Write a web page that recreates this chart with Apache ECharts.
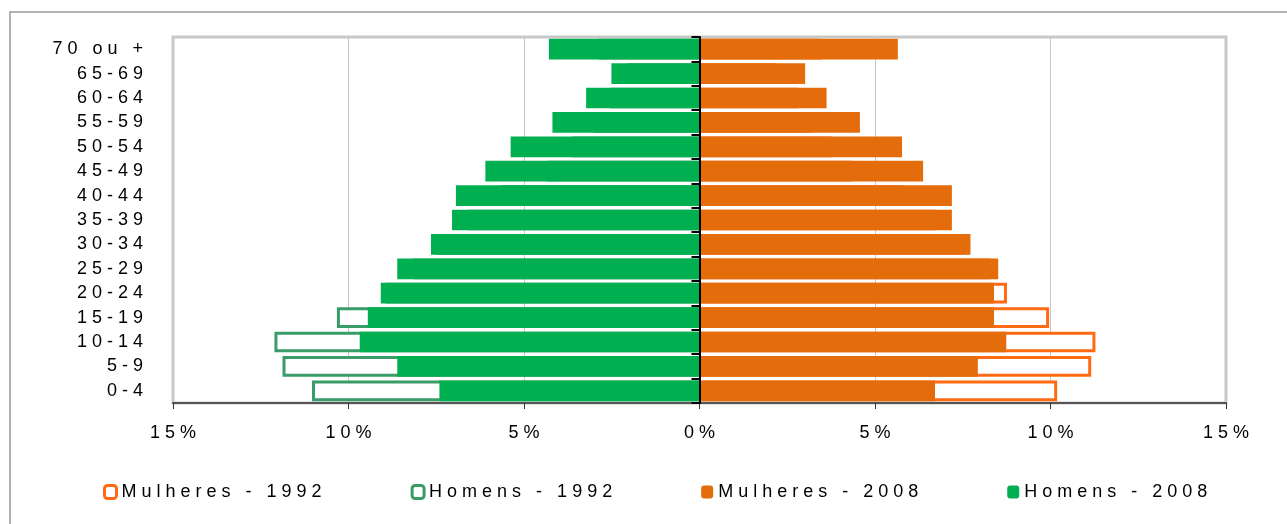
<!DOCTYPE html>
<html>
<head>
<meta charset="utf-8">
<script src="https://cdn.jsdelivr.net/npm/echarts@6/dist/echarts.min.js"></script>
<style>
  html, body { margin: 0; padding: 0; background: #fff; }
  #chart { width: 1287px; height: 524px; }
</style>
</head>
<body>
<div id="chart"></div>
<script>
// faixas etarias, de baixo para cima
const categories = ['0-4', '5-9', '10-14', '15-19', '20-24', '25-29', '30-34', '35-39',
  '40-44', '45-49', '50-54', '55-59', '60-64', '65-69', '70 ou +'];

// % da populacao
const homens1992   = [11.04, 11.88, 12.11, 10.33, 8.95, 8.16, 7.5, 6.62, 5.65, 4.34, 3.63, 3.03, 2.54, 2.06, 2.88];
const mulheres1992 = [10.19, 11.16, 11.28, 9.96, 8.76, 8.3, 7.6, 6.74, 5.8, 4.34, 3.77, 3.17, 2.8, 2.2, 3.48];
const homens2008   = [7.41, 8.61, 9.68, 9.45, 9.08, 8.61, 7.65, 7.05, 6.94, 6.1, 5.38, 4.19, 3.23, 2.51, 4.29];
const mulheres2008 = [6.71, 7.93, 8.74, 8.39, 8.39, 8.51, 7.72, 7.19, 7.19, 6.37, 5.77, 4.57, 3.62, 3.01, 5.65];

const xTicks = [-15, -10, -5, 0, 5, 10, 15];

const font = 'Liberation Sans, Arial, sans-serif';
const spaced = s => s.split('').join(' ');

const orange92 = '#ff6a13', green92 = '#3a9c68';
const orange08 = '#e46c0a', green08 = '#00af50';

const chart = echarts.init(document.getElementById('chart'));

const hollow = (name, data, color) => ({
  name: name,
  type: 'bar',
  barGap: '-100%',
  barCategoryGap: '15%',
  data: data,
  itemStyle: { color: '#fff', borderColor: color, borderWidth: 3 }
});
const filled = (name, data, color) => ({
  name: name,
  type: 'bar',
  barGap: '-100%',
  barCategoryGap: '15%',
  data: data,
  itemStyle: { color: color }
});

chart.setOption({
  animation: false,
  backgroundColor: '#fff',
  graphic: [{
    type: 'rect',
    shape: { x: 10, y: 12, width: 1300, height: 540 },
    style: { fill: null, stroke: '#9a9a9a', lineWidth: 1.5 },
    silent: true
  }],
  grid: {
    left: 173, right: 61, top: 37, bottom: 121,
    show: true, borderColor: '#c8c8c8', borderWidth: 3
  },
  legend: {
    bottom: 18,
    left: 98,
    itemWidth: 12,
    itemHeight: 13,
    itemGap: 89,
    textStyle: { fontFamily: font, fontSize: 18, color: '#000' },
    formatter: spaced,
    data: [
      { name: 'Mulheres - 1992', itemStyle: { borderWidth: 3, borderColor: orange92, color: '#fff' } },
      { name: 'Homens - 1992', itemStyle: { borderWidth: 3, borderColor: green92, color: '#fff' } },
      { name: 'Mulheres - 2008' },
      { name: 'Homens - 2008' }
    ]
  },
  xAxis: {
    type: 'value',
    min: xTicks[0],
    max: xTicks[xTicks.length - 1],
    interval: 5,
    axisLine: { show: true, lineStyle: { color: '#555', width: 2 } },
    axisTick: { show: true, length: 6, lineStyle: { color: '#333' } },
    splitLine: { show: true, lineStyle: { color: '#c8c8c8', width: 1 } },
    axisLabel: {
      margin: 21,
      fontFamily: font, fontSize: 18, color: '#000',
      formatter: v => spaced(Math.abs(v) + '%')
    }
  },
  yAxis: [{
    type: 'category',
    data: categories,
    position: 'left',
    axisLine: { show: false, onZero: false },
    axisTick: { show: false },
    axisLabel: {
      margin: 30,
      fontFamily: font, fontSize: 18, color: '#000',
      formatter: spaced
    }
  }, {
    type: 'category',
    data: categories,
    position: 'left',
    z: 10,
    axisLine: { show: true, onZero: true, lineStyle: { color: '#000', width: 2 } },
    axisTick: { show: true, length: 8, lineStyle: { color: '#000', width: 2 } },
    axisLabel: { show: false }
  }],
  series: [
    hollow('Mulheres - 1992', mulheres1992, orange92),
    hollow('Homens - 1992', homens1992.map(v => -v), green92),
    filled('Mulheres - 2008', mulheres2008, orange08),
    filled('Homens - 2008', homens2008.map(v => -v), green08)
  ]
});
</script>
</body>
</html>
